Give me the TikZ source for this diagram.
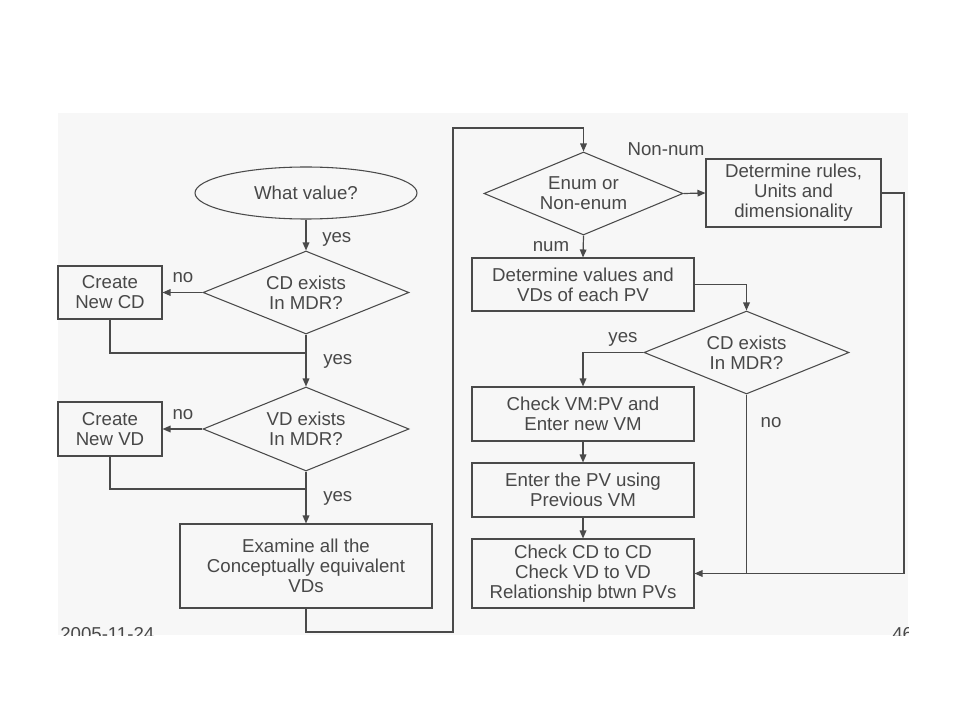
\documentclass[tikz,border=0pt]{standalone}
\usepackage{fontspec}
\setmainfont{Liberation Sans}
\usetikzlibrary{shapes.geometric,arrows.meta}
\definecolor{panel}{HTML}{F7F7F7}
\definecolor{ink}{HTML}{484848}
\definecolor{wire}{HTML}{4A4A4A}
\begin{document}
\begin{tikzpicture}[x=0.75pt,y=-0.75pt,
  every node/.style={text=ink,font=\fontsize{14}{15}\selectfont},
  boxnode/.style={draw=wire,line width=0.8pt,rectangle,inner sep=0pt,align=center,fill=panel},
  decnode/.style={draw=wire,line width=0.8pt,diamond,inner sep=0pt,aspect=2.5,align=center,fill=panel},
  termnode/.style={draw=wire,line width=0.8pt,ellipse,inner sep=0pt,align=center,fill=panel},
  lbl/.style={inner sep=0pt},
  wireline/.style={draw=wire,line width=0.9pt},
  arr/.style={wireline,-{Triangle[length=6pt,width=5pt]}}]
\useasboundingbox (0,0) rectangle (960,720);
\fill[white] (0,0) rectangle (960,720);
\fill[panel] (58,113) rectangle (908,635);
% footer
\begin{scope}
\clip (58,113) rectangle (908,635);
\node[lbl,anchor=base west] (date) at (60,640) {2005-11-24};
\node[lbl,anchor=base west] (page) at (892,640) {46};
\end{scope}
% nodes
\node[termnode,minimum width=166.5pt,minimum height=39pt] (start) at (306,193) {What value?};
\node[decnode,minimum width=154.5pt,minimum height=62.25pt] (cd1) at (306,292.5) {CD exists\\In MDR?};
\node[boxnode,minimum width=78pt,minimum height=39.75pt] (newcd) at (110,292.5) {Create\\New CD};
\node[decnode,minimum width=154.5pt,minimum height=63pt] (vd) at (306,429) {VD exists\\In MDR?};
\node[boxnode,minimum width=78pt,minimum height=40.5pt] (newvd) at (110,429) {Create\\New VD};
\node[boxnode,minimum width=189pt,minimum height=63pt] (exam) at (306,566) {Examine all the\\Conceptually equivalent\\VDs};
\node[decnode,minimum width=149.25pt,minimum height=62.25pt] (enum) at (583.5,193.5) {Enum or\\Non-enum};
\node[boxnode,minimum width=131.25pt,minimum height=51pt] (rules) at (793.5,193) {Determine rules,\\Units and\\dimensionality};
\node[boxnode,minimum width=166.5pt,minimum height=39.75pt] (vals) at (583,284.5) {Determine values and\\VDs of each PV};
\node[decnode,minimum width=153.75pt,minimum height=62.25pt] (cd2) at (746.5,352.5) {CD exists\\In MDR?};
\node[boxnode,minimum width=166.5pt,minimum height=40.5pt] (chk) at (583,414) {Check VM:PV and\\Enter new VM};
\node[boxnode,minimum width=166.5pt,minimum height=40.5pt] (ent) at (583,490) {Enter the PV using\\Previous VM};
\node[boxnode,minimum width=166.5pt,minimum height=51.75pt] (fin) at (583,573.5) {Check CD to CD\\Check VD to VD\\Relationship btwn PVs};
% labels
\node[lbl,anchor=west] (y1) at (322,239) {yes};
\node[lbl] (n1) at (183,278) {no};
\node[lbl,anchor=west] (y2) at (323,361) {yes};
\node[lbl] (n2) at (183,415) {no};
\node[lbl,anchor=west] (y3) at (323,498) {yes};
\node[lbl] (nn) at (666,149) {Non-num};
\node[lbl] (nm) at (551,247) {num};
\node[lbl] (y4) at (623,339) {yes};
\node[lbl] (n3) at (771,423) {no};
% junctions
\coordinate (j1) at (306,353);
\coordinate (j2) at (306,489);
\coordinate (e1) at (306,632);
\coordinate (e2) at (453,632);
\coordinate (e3) at (453,128);
\coordinate (e4) at (583.5,128);
\coordinate (r1) at (904,573.5);
% connectors
\draw[arr] (start) -- (cd1);
\draw[arr] (cd1.west) -- (newcd.east);
\draw[wireline] (newcd.south) |- (j1);
\draw[arr] (cd1.south) -- (vd.north);
\draw[arr] (vd.west) -- (newvd.east);
\draw[wireline] (newvd.south) |- (j2);
\draw[arr] (vd.south) -- (exam.north);
\draw[arr] (exam.south) -- (e1) -- (e2) -- (e3) -- (e4) -- (enum.north);
\draw[arr] (enum.east) -- (rules.west);
\draw[arr] (rules.east) -| (r1) -- (fin.east);
\draw[arr] (enum.south) -- (vals.north);
\draw[arr] (vals.east) -| (cd2.north);
\draw[arr] (cd2.west) -| (chk.north);
\draw[arr] (chk.south) -- (ent.north);
\draw[arr] (ent.south) -- (fin.north);
\draw[wireline] (cd2.south) -- (cd2.south |- fin.east);
\end{tikzpicture}
\end{document}
